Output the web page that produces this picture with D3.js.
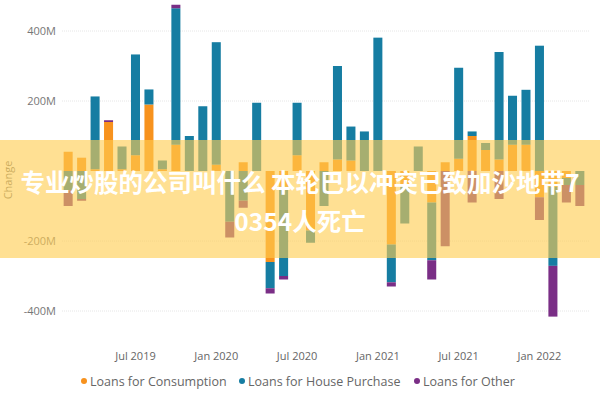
<!DOCTYPE html>
<html><head><meta charset="utf-8">
<script src="https://cdn.jsdelivr.net/npm/d3@7"></script>
<style>body{margin:0;background:#fff}svg{font-family:"Segoe UI","Open Sans",sans-serif}</style>
</head><body><svg id="c" width="600" height="400"></svg>
<script>
const months = ["2019-02","2019-03","2019-04","2019-05","2019-06","2019-07","2019-08","2019-09","2019-10","2019-11","2019-12",
"2020-01","2020-02","2020-03","2020-04","2020-05","2020-06","2020-07","2020-08","2020-09","2020-10","2020-11","2020-12",
"2021-01","2021-02","2021-03","2021-04","2021-05","2021-06","2021-07","2021-08","2021-09","2021-10","2021-11","2021-12",
"2022-01","2022-02","2022-03","2022-04"];
const consumption = [55,38,5,140,5,45,190,5,75,0,0, 18,0,25,0,-260,-45,45,-170,25,33,30,0, 0,-210,-45,0,-90,25,35,100,60,33,75,75, -75,-45,-20,0];
const house = [-55,-80,208,0,65,288,43,25,390,100,185, 350,-145,-85,195,-75,-255,150,-35,-100,267,97,113, 381,-108,-105,70,-165,0,260,13,20,307,140,157, 358,-226,-20,-40];
const other = [-45,-5,0,5,0,0,0,0,10,0,0, 0,-45,-20,0,-15,-10,0,0,0,0,0,0, 0,-12,0,0,-55,-215,0,-90,0,-80,0,0, -65,-145,-50,-60];
const seriesNames = ["Loans for Consumption","Loans for House Purchase","Loans for Other"];
const colors = ["#F7921E","#167DA2","#7A2E86"];
const yTicks = [400,200,0,-200,-400];
const tickMonths = ["2019-07","2020-01","2020-07","2021-01","2021-07","2022-01"];
const tickLabels = ["Jul 2019","Jan 2020","Jul 2020","Jan 2021","Jul 2021","Jan 2022"];
const bannerLines = ["专业炒股的公司叫什么 本轮巴以冲突已致加沙地带7","0354人死亡"];

const svg = d3.select("#c");
const x = d3.scaleBand().domain(months).range([59.2,588.8]).padding(0.33);
const y = d3.scaleLinear().domain([-400,400]).range([311,31]);

svg.append("g").selectAll("line").data(yTicks.filter(d=>d!==0)).join("line")
  .attr("x1",62).attr("x2",590).attr("y1",d=>y(d)).attr("y2",d=>y(d))
  .attr("stroke","#e6e6e6").attr("stroke-dasharray","1,1");
svg.append("g").selectAll("text").data(yTicks.filter(d=>d!==0)).join("text")
  .attr("x",56).attr("y",d=>y(d)+4).attr("text-anchor","end")
  .attr("font-size",11).attr("fill","#777").text(d=>d+"M");
svg.append("text").attr("transform","translate(12,180) rotate(-90)").attr("text-anchor","middle")
  .attr("font-size",11).attr("fill","#777").text("Change");

const data = [consumption,house,other];
const segs = [];
months.forEach((m,i)=>{
  let pos=0,neg=0;
  data.forEach((s,k)=>{
    const v=s[i]; if(!v) return;
    if(v>0){segs.push({m,k,y0:pos,y1:pos+v});pos+=v;}
    else {segs.push({m,k,y0:neg+v,y1:neg});neg+=v;}
  });
});
svg.append("g").selectAll("rect").data(segs).join("rect")
  .attr("x",d=>x(d.m)).attr("width",x.bandwidth())
  .attr("y",d=>y(d.y1)).attr("height",d=>y(d.y0)-y(d.y1))
  .attr("fill",d=>colors[d.k]);

svg.append("g").selectAll("text").data(tickMonths).join("text")
  .attr("x",d=>x(d)+x.bandwidth()/2).attr("y",360).attr("text-anchor","middle")
  .attr("font-size",11).attr("fill","#666").text((d,i)=>tickLabels[i]);

const legX=[84,242,417];
const lg = svg.append("g").selectAll("g").data(seriesNames).join("g")
  .attr("transform",(d,i)=>`translate(${legX[i]},381)`);
lg.append("circle").attr("r",3).attr("fill",(d,i)=>colors[i]);
lg.append("text").attr("x",6).attr("y",4.5).attr("font-size",12.5).attr("fill","#666").text(d=>d);

svg.append("rect").attr("x",0).attr("y",140).attr("width",600).attr("height",118)
  .attr("fill","rgb(255,205,80)").attr("opacity",0.62);
svg.append("g").selectAll("text").data(bannerLines).join("text")
  .attr("x",300).attr("y",(d,i)=>192+i*39).attr("text-anchor","middle")
  .attr("font-family","'Noto Sans CJK SC',sans-serif").attr("font-weight","bold")
  .attr("font-size",24.5).attr("fill","#fff").text(d=>d);
</script></body></html>
